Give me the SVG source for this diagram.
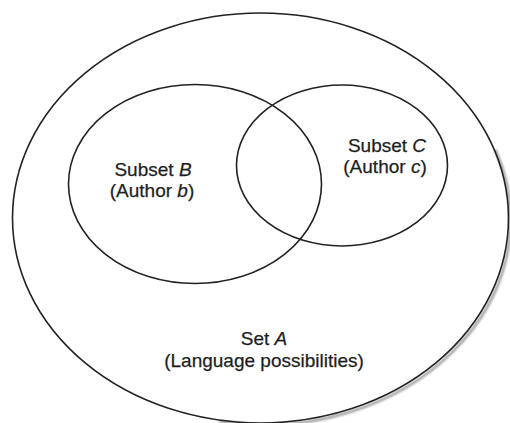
<svg xmlns="http://www.w3.org/2000/svg" width="510" height="423" viewBox="0 0 510 423">
  <defs>
    <style>
      .set { fill: none; stroke: #222222; stroke-width: 1.6; }
      .shadow { fill: none; stroke: #9a9a9a; stroke-width: 2.5; }
      .lbl { font-family: "Liberation Sans", Arial, sans-serif; font-size: 19px; fill: #1e1e1e; stroke: #1e1e1e; stroke-width: 0.25; text-anchor: middle; }
      .it { font-style: italic; }
    </style>
    <filter id="blur" x="-10%" y="-10%" width="120%" height="120%">
      <feGaussianBlur stdDeviation="1"/>
    </filter>
  </defs>
  <rect width="510" height="423" fill="#ffffff"/>
  <g id="setA">
    <path class="shadow" filter="url(#blur)" d="M 493.6 147.9 A 248 205 0 0 1 217.4 419.9" transform="translate(2,2)"/>
    <ellipse class="set" cx="260.5" cy="218" rx="248" ry="205"/>
    <text class="lbl" x="264" y="345">Set <tspan class="it">A</tspan></text>
    <text class="lbl" x="264" y="367">(Language possibilities)</text>
  </g>
  <g id="subsetB">
    <ellipse class="set" cx="195" cy="184" rx="126.5" ry="99.5"/>
    <text class="lbl" x="153" y="176">Subset <tspan class="it">B</tspan></text>
    <text class="lbl" x="152" y="197">(Author <tspan class="it">b</tspan>)</text>
  </g>
  <g id="subsetC">
    <ellipse class="set" cx="342" cy="165.5" rx="105.5" ry="80.5"/>
    <text class="lbl" x="387" y="152">Subset <tspan class="it">C</tspan></text>
    <text class="lbl" x="385" y="173">(Author <tspan class="it">c</tspan>)</text>
  </g>
  <g id="connectors"/>
</svg>
